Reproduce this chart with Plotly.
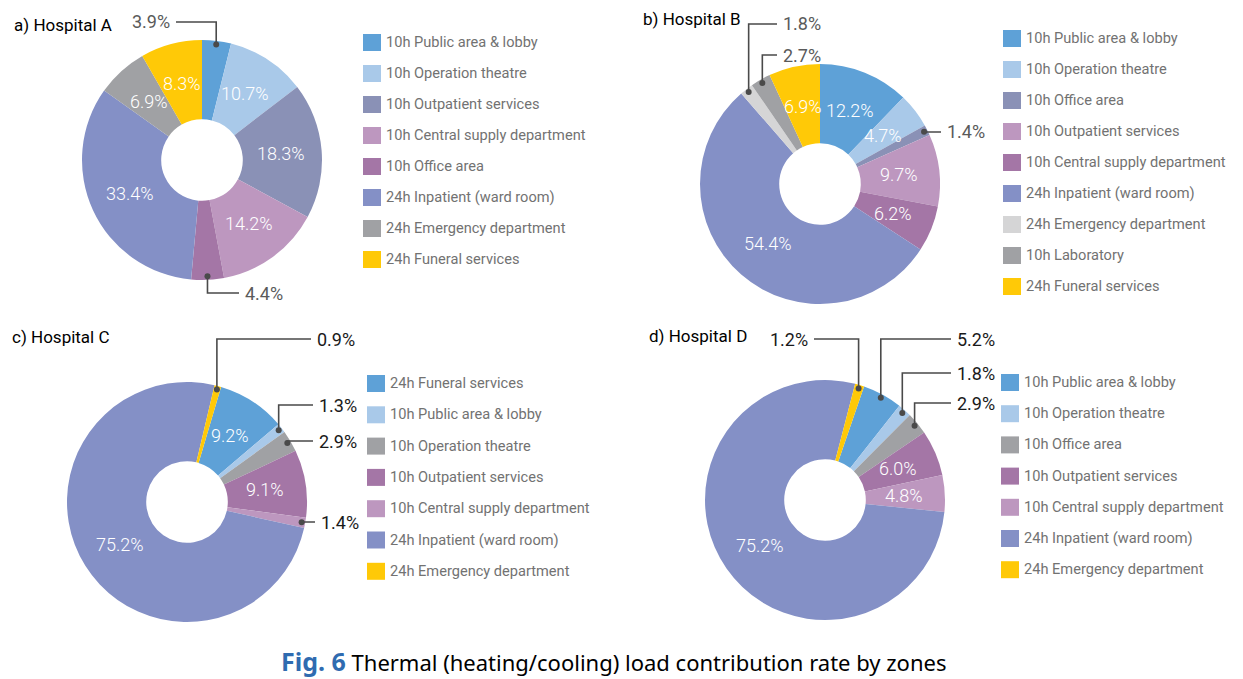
import math

import plotly.graph_objects as go

W, H = 1243, 679

# palette
BLUE = '#5EA1D7'
LIGHT_BLUE = '#A9C9E9'
SLATE = '#8A91B6'
MAUVE = '#BD97BF'
PURPLE = '#A476A6'
LAVENDER = '#8490C6'
GREY = '#A0A1A4'
LIGHT_GREY = '#D5D5D6'
YELLOW = '#FFC907'

# a) Hospital A
a_labels = ['10h Public area & lobby', '10h Operation theatre', '10h Outpatient services',
            '10h Central supply department', '10h Office area', '24h Inpatient (ward room)',
            '24h Emergency department', '24h Funeral services']
a_values = [3.9, 10.7, 18.3, 14.2, 4.4, 33.4, 6.9, 8.3]
a_colors = [BLUE, LIGHT_BLUE, SLATE, MAUVE, PURPLE, LAVENDER, GREY, YELLOW]

# b) Hospital B
b_labels = ['10h Public area & lobby', '10h Operation theatre', '10h Office area',
            '10h Outpatient services', '10h Central supply department', '24h Inpatient (ward room)',
            '24h Emergency department', '10h Laboratory', '24h Funeral services']
b_values = [12.2, 4.7, 1.4, 9.7, 6.2, 54.4, 1.8, 2.7, 6.9]
b_colors = [BLUE, LIGHT_BLUE, SLATE, MAUVE, PURPLE, LAVENDER, LIGHT_GREY, GREY, YELLOW]

# c) Hospital C
c_labels = ['24h Funeral services', '10h Public area & lobby', '10h Operation theatre',
            '10h Outpatient services', '10h Central supply department', '24h Inpatient (ward room)',
            '24h Emergency department']
c_values = [9.2, 1.3, 2.9, 9.1, 1.4, 75.2, 0.9]
c_colors = [BLUE, LIGHT_BLUE, GREY, PURPLE, MAUVE, LAVENDER, YELLOW]

# d) Hospital D
d_labels = ['10h Public area & lobby', '10h Operation theatre', '10h Office area',
            '10h Outpatient services', '10h Central supply department', '24h Inpatient (ward room)',
            '24h Emergency department']
d_values = [5.2, 1.8, 2.9, 6.0, 4.8, 75.2, 1.2]
d_colors = [BLUE, LIGHT_BLUE, GREY, PURPLE, MAUVE, LAVENDER, YELLOW]

R = 120  # outer radius in px
HOLE = 0.34


def px(x):
    return x / W


def py(y):
    return 1 - y / H


def mid_angle(values, i, rotation):
    total = sum(values)
    before = sum(values[:i])
    return math.radians(rotation + (before + values[i] / 2) / total * 360)


def polar(cx, cy, ang, rad):
    return cx + rad * math.sin(ang), cy - rad * math.cos(ang)


# layout of each panel: centre, rotation, title, legend anchor, callouts
panels = [
    dict(labels=a_labels, values=a_values, colors=a_colors, cx=202, cy=160, rot=0,
         title='a) Hospital A', tx=12, ty=25, lx=363, ly=42, step=31, callcol='#5a5a5a',
         callouts={0: (172, 22, 'right'), 4: (243, 293, 'left')}),
    dict(labels=b_labels, values=b_values, colors=b_colors, cx=820, cy=184, rot=0,
         title='b) Hospital B', tx=641, ty=19, lx=1003, ly=38, step=31, callcol='#5a5a5a',
         callouts={6: (781, 24, 'left'), 7: (781, 55, 'left'), 2: (945, 132, 'left')}),
    dict(labels=c_labels, values=c_values, colors=c_colors, cx=187, cy=502, rot=16.5,
         title='c) Hospital C', tx=10, ty=337, lx=367, ly=383, step=31.3, callcol='#1a1a1a',
         callouts={6: (315, 339, 'left'), 1: (317, 405, 'left'), 2: (317, 441, 'left'),
                   4: (319, 522, 'left')}),
    dict(labels=d_labels, values=d_values, colors=d_colors, cx=825, cy=500, rot=19,
         title='d) Hospital D', tx=647, ty=336, lx=1001, ly=382, step=31.2, callcol='#1a1a1a',
         callouts={6: (810, 339, 'right'), 0: (955, 339, 'left'), 1: (955, 373, 'left'),
                   2: (955, 403, 'left')}),
]

fig = go.Figure()
annotations = []
shapes = []
FONT = 'Roboto'

for p in panels:
    cx, cy = p['cx'], p['cy']
    fig.add_trace(go.Pie(
        labels=p['labels'], values=p['values'],
        marker=dict(colors=p['colors'], line=dict(width=0)),
        hole=HOLE, sort=False, direction='clockwise', rotation=p['rot'],
        textinfo='none', showlegend=False,
        domain=dict(x=[px(cx - R), px(cx + R)], y=[py(cy + R), py(cy - R)]),
    ))

    # percentage labels
    for i, v in enumerate(p['values']):
        ang = mid_angle(p['values'], i, p['rot'])
        txt = f'{v:.1f}%'
        if i in p['callouts']:
            lx, ly, side = p['callouts'][i]
            dx, dy = polar(cx, cy, ang, R * 0.97)
            ex = lx - 4 if side == 'left' else lx + 4
            path = f'M {px(dx)},{py(dy)} L {px(dx)},{py(ly)} L {px(ex)},{py(ly)}'
            shapes.append(dict(type='path', xref='paper', yref='paper', path=path,
                               line=dict(color='#4a4a4a', width=1.6)))
            shapes.append(dict(type='circle', xref='paper', yref='paper',
                               x0=px(dx - 3), x1=px(dx + 3), y0=py(dy + 3), y1=py(dy - 3),
                               fillcolor='#4a4a4a', line=dict(width=0)))
            annotations.append(dict(x=px(lx), y=py(ly), xref='paper', yref='paper', text=txt,
                                    showarrow=False, xanchor=side, yanchor='middle',
                                    font=dict(family=FONT, size=18, color=p['callcol'])))
        else:
            tx, ty = polar(cx, cy, ang, R * 0.66)
            annotations.append(dict(x=px(tx), y=py(ty), xref='paper', yref='paper', text=txt,
                                    showarrow=False, xanchor='center', yanchor='middle',
                                    font=dict(family=FONT, size=18, color='white', weight=300)))

    # legend
    for i, (lab, col) in enumerate(zip(p['labels'], p['colors'])):
        yc = p['ly'] + i * p['step']
        shapes.append(dict(type='rect', xref='paper', yref='paper',
                           x0=px(p['lx']), x1=px(p['lx'] + 18), y0=py(yc + 9), y1=py(yc - 8),
                           fillcolor=col, line=dict(width=0)))
        annotations.append(dict(x=px(p['lx'] + 21), y=py(yc), xref='paper', yref='paper',
                                text=lab, showarrow=False, xanchor='left', yanchor='middle',
                                font=dict(family=FONT, size=14.6, color='#727272')))

    # panel title
    annotations.append(dict(x=px(p['tx']), y=py(p['ty']), xref='paper', yref='paper',
                            text=p['title'], showarrow=False, xanchor='left', yanchor='middle',
                            font=dict(family=FONT, size=17, color='black')))

# figure caption
annotations.append(dict(
    x=px(613), y=py(661), xref='paper', yref='paper', showarrow=False,
    xanchor='center', yanchor='middle',
    text='<b><span style="color:#2F6BB0;font-size:25px">Fig. 6</span></b> '
         'Thermal (heating/cooling) load contribution rate by zones',
    font=dict(family='Noto Sans', size=22, color='black')))

fig.update_layout(
    width=W, height=H,
    margin=dict(l=0, r=0, t=0, b=0),
    paper_bgcolor='white', plot_bgcolor='white',
    annotations=annotations, shapes=shapes,
)

# drop the page's default body margin so the figure sits at the window's corner
fig.write_html('out.html', config={'displayModeBar': False},
               post_script="document.body.style.margin='0';document.body.style.overflow='hidden';")
